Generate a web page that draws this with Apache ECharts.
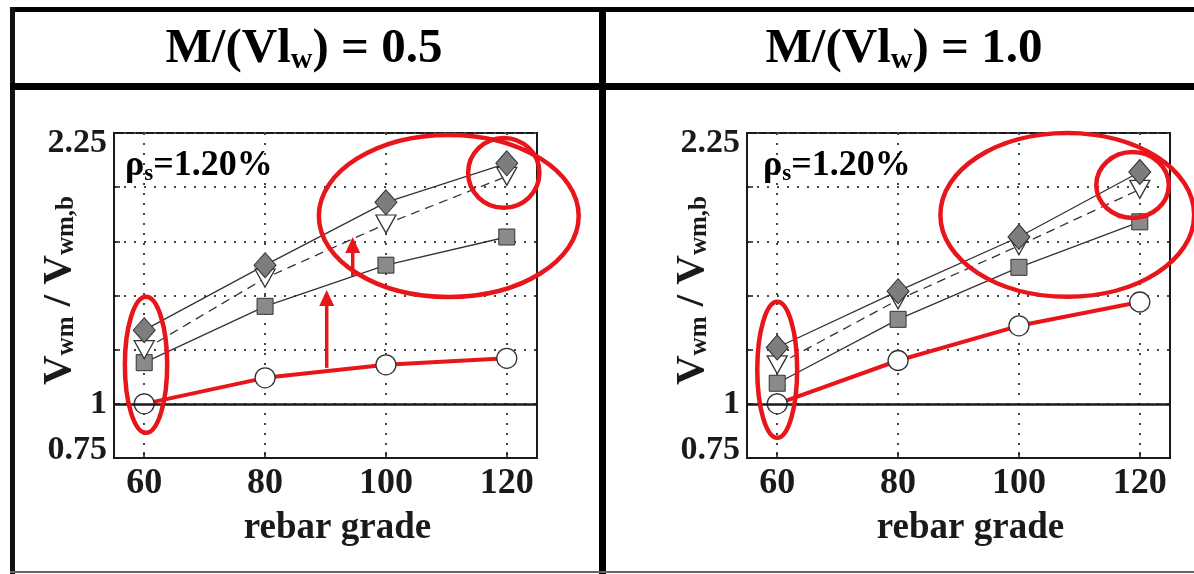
<!DOCTYPE html>
<html>
<head>
<meta charset="utf-8">
<script src="https://cdn.jsdelivr.net/npm/echarts@6/dist/echarts.min.js"></script>
<style>
  html, body { margin: 0; padding: 0; background: #fff; }
  #chart { width: 1194px; height: 574px; }
</style>
</head>
<body>
<div id="chart"></div>
<script>
// rebar grade on the x axis
var grades = [60, 80, 100, 120];
var yLabelValues = [0.75, 1, 2.25];
var panelTitles = ['0.5', '1.0'];

// M/(Vlw) = 0.5
var diamond05 = [1.34, 1.64, 1.93, 2.11];
var triangle05 = [1.25, 1.58, 1.83, 2.05];
var square05 = [1.19, 1.45, 1.64, 1.77];
var circle05 = [1.00, 1.12, 1.18, 1.21];

// M/(Vlw) = 1.0
var diamond10 = [1.26, 1.52, 1.77, 2.07];
var triangle10 = [1.18, 1.48, 1.73, 1.99];
var square10 = [1.095, 1.39, 1.63, 1.84];
var circle10 = [1.00, 1.20, 1.36, 1.47];

// red arrows on the left panel: [grade, from, to]
var arrows05 = [[90.2, 1.166, 1.525], [94.5, 1.59, 1.77]];

// red ellipses: [panel, grade, ratio, rx (grade units), ry (ratio units)]
var ellipses = [
	[0, 110.4, 1.867, 21.5, 0.374],
	[0, 119.5, 2.066, 5.9, 0.161],
	[0, 60.3, 1.18, 3.5, 0.314],
	[1, 108.0, 1.872, 21.0, 0.378],
	[1, 118.8, 2.01, 6.0, 0.152],
	[1, 60.0, 1.157, 3.3, 0.314]
];

var RED = '#e8151b';
var FONT = "'Liberation Serif', 'DejaVu Serif', serif";

function pairs(values) {
	var t = [];
	for (var i = 0; i < grades.length; i++) {
		t.push([grades[i], values[i]]);
	}
	return t;
}

var grids = [
	{ left: 114, top: 133, width: 423, height: 325 },
	{ left: 747, top: 133, width: 423, height: 325 }
];

var labelFont = { fontFamily: FONT, fontWeight: 'bold', fontSize: 34, color: '#1a1a1a' };

var xAxes = [];
var yAxes = [];
for (var g = 0; g < 2; g++) {
	grids[g].show = true;
	grids[g].borderColor = '#1a1a1a';
	grids[g].borderWidth = 2;
	grids[g].backgroundColor = '#fff';
	xAxes.push({
		type: 'value',
		gridIndex: g,
		min: 55,
		max: 125,
		name: 'rebar grade',
		nameLocation: 'middle',
		nameGap: 52,
		nameMoveOverlap: false,
		nameTextStyle: { fontFamily: FONT, fontWeight: 'bold', fontSize: 37, color: '#1a1a1a', padding: [0, 0, 0, 24] },
		axisLine: { lineStyle: { color: '#1a1a1a', width: 2 } },
		axisTick: { inside: true, length: 6, customValues: grades, lineStyle: { color: '#1a1a1a', width: 1.5 } },
		axisLabel: { customValues: grades, margin: 8, fontFamily: FONT, fontWeight: 'bold', fontSize: 36, color: '#1a1a1a' },
		splitLine: { show: true, lineStyle: { color: '#444', type: [2, 8], width: 2 } }
	});
	yAxes.push({
		type: 'value',
		gridIndex: g,
		min: 0.75,
		max: 2.25,
		interval: 0.25,
		name: 'V{sub|wm} / V{sub|wm,b}',
		nameLocation: 'middle',
		nameRotate: 90,
		nameGap: 34,
		nameMoveOverlap: false,
		nameTextStyle: {
			fontFamily: FONT, fontWeight: 'bold', fontSize: 41, color: '#1a1a1a',
			padding: [0, 0, 0, 10],
			rich: {
				sub: { fontFamily: FONT, fontWeight: 'bold', fontSize: 25, color: '#1a1a1a', padding: [15, 0, 0, 0] }
			}
		},
		axisLine: { lineStyle: { color: '#1a1a1a', width: 2 } },
		axisTick: { inside: true, length: 6, lineStyle: { color: '#1a1a1a', width: 1.5 } },
		axisLabel: {
			customValues: yLabelValues,
			margin: 7,
			fontFamily: FONT, fontWeight: 'bold', fontSize: 34, color: '#1a1a1a',
			formatter: function (v) {
				if (v == 2.25) return '{t|2.25}';
				if (v == 0.75) return '{b|0.75}';
				return String(v);
			},
			rich: {
				t: Object.assign({ padding: [20, 0, 0, 0] }, labelFont),
				b: Object.assign({ padding: [0, 0, 16, 0] }, labelFont)
			}
		},
		splitLine: { show: true, lineStyle: { color: '#444', type: [2, 8], width: 2 } }
	});
}

function makeSeries(g, values, kind) {
	var s = {
		type: 'line',
		xAxisIndex: g,
		yAxisIndex: g,
		data: pairs(values),
		z: 3
	};
	if (kind == 'diamond') {
		s.symbol = 'diamond';
		s.symbolSize = [22, 25];
		s.itemStyle = { color: '#7d7d7d', borderColor: '#333', borderWidth: 1 };
		s.lineStyle = { color: '#333', width: 1.3 };
	} else if (kind == 'triangle') {
		s.symbol = 'triangle';
		s.symbolRotate = 180;
		s.symbolSize = [20, 18];
		s.itemStyle = { color: '#fff', borderColor: '#333', borderWidth: 1.3 };
		s.lineStyle = { color: '#333', width: 1.3, type: [9, 6] };
	} else if (kind == 'square') {
		s.symbol = 'rect';
		s.symbolSize = 16;
		s.itemStyle = { color: '#8a8a8a', borderColor: '#333', borderWidth: 1 };
		s.lineStyle = { color: '#333', width: 1.3 };
		// solid reference line at ratio 1
		s.markLine = {
			silent: true,
			symbol: 'none',
			label: { show: false },
			lineStyle: { color: '#1a1a1a', width: 2.5, type: 'solid' },
			data: [{ yAxis: 1 }]
		};
	} else {
		s.symbol = 'circle';
		s.symbolSize = 20;
		s.itemStyle = { color: '#fff', borderColor: '#333', borderWidth: 1.3 };
		s.lineStyle = { color: RED, width: 4 };
		s.z = 4;
	}
	return s;
}

var series = [
	makeSeries(0, square05, 'square'),
	makeSeries(0, triangle05, 'triangle'),
	makeSeries(0, diamond05, 'diamond'),
	makeSeries(0, circle05, 'circle'),
	makeSeries(1, square10, 'square'),
	makeSeries(1, triangle10, 'triangle'),
	makeSeries(1, diamond10, 'diamond'),
	makeSeries(1, circle10, 'circle')
];

var headerRich = {
	m: { fontFamily: FONT, fontWeight: 'bold', fontSize: 49, color: '#111', lineHeight: 54 },
	w: { fontFamily: FONT, fontWeight: 'bold', fontSize: 30, color: '#111', lineHeight: 54, padding: [22, 0, 0, 0] }
};
var rhoRich = {
	m: { fontFamily: FONT, fontWeight: 'bold', fontSize: 36, color: '#222', lineHeight: 40 },
	s: { fontFamily: FONT, fontWeight: 'bold', fontSize: 23, color: '#222', lineHeight: 40, padding: [16, 0, 0, 0] }
};

var graphics = [
	// frame
	{ type: 'line', shape: { x1: 10, y1: 9.5, x2: 1194, y2: 9.5 }, style: { stroke: '#000', lineWidth: 5 }, z: 10 },
	{ type: 'line', shape: { x1: 12.5, y1: 7, x2: 12.5, y2: 574 }, style: { stroke: '#111', lineWidth: 5 }, z: 10 },
	{ type: 'line', shape: { x1: 10, y1: 86.5, x2: 1194, y2: 86.5 }, style: { stroke: '#000', lineWidth: 7 }, z: 10 },
	{ type: 'line', shape: { x1: 602.5, y1: 7, x2: 602.5, y2: 574 }, style: { stroke: '#000', lineWidth: 7 }, z: 10 },
	{ type: 'line', shape: { x1: 10, y1: 572, x2: 1194, y2: 572 }, style: { stroke: '#666', lineWidth: 2 }, z: 10 }
];
for (var p = 0; p < 2; p++) {
	graphics.push({
		type: 'text',
		x: p == 0 ? 304 : 904,
		y: 49,
		style: {
			text: '{m|M/(Vl}{w|w}{m|) = ' + panelTitles[p] + '}',
			rich: headerRich,
			align: 'center',
			verticalAlign: 'middle'
		},
		z: 10
	});
	graphics.push({
		type: 'text',
		x: grids[p].left + (p == 0 ? 11 : 16),
		y: 166,
		style: {
			text: '{m|\u03c1}{s|s}{m|=1.20%}',
			rich: rhoRich,
			verticalAlign: 'middle'
		},
		z: 5
	});
}

var dom = document.getElementById('chart');
var myChart = echarts.init(dom, null, { renderer: 'canvas' });
var option = {
	backgroundColor: '#ffffff',
	animation: false,
	grid: grids,
	xAxis: xAxes,
	yAxis: yAxes,
	series: series,
	graphic: graphics
};
myChart.setOption(option);

// red annotations placed from data coordinates
var extra = [];
for (var i = 0; i < ellipses.length; i++) {
	var e = ellipses[i];
	var c = myChart.convertToPixel({ gridIndex: e[0] }, [e[1], e[2]]);
	var edge = myChart.convertToPixel({ gridIndex: e[0] }, [e[1] + e[3], e[2] + e[4]]);
	extra.push({
		type: 'ellipse',
		shape: { cx: c[0], cy: c[1], rx: Math.abs(edge[0] - c[0]), ry: Math.abs(edge[1] - c[1]) },
		style: { fill: null, stroke: RED, lineWidth: 4.5 },
		z: 20
	});
}
for (var k = 0; k < arrows05.length; k++) {
	var a = arrows05[k];
	var from = myChart.convertToPixel({ gridIndex: 0 }, [a[0], a[1]]);
	var to = myChart.convertToPixel({ gridIndex: 0 }, [a[0], a[2]]);
	var head = 16;
	extra.push({
		type: 'line',
		shape: { x1: from[0], y1: from[1], x2: to[0], y2: to[1] + head - 2 },
		style: { stroke: RED, lineWidth: 3.5 },
		z: 20
	});
	extra.push({
		type: 'polygon',
		shape: { points: [[to[0], to[1]], [to[0] - 7.5, to[1] + head], [to[0] + 7.5, to[1] + head]] },
		style: { fill: RED },
		z: 20
	});
}
myChart.setOption({ graphic: graphics.concat(extra) });
</script>
</body>
</html>
